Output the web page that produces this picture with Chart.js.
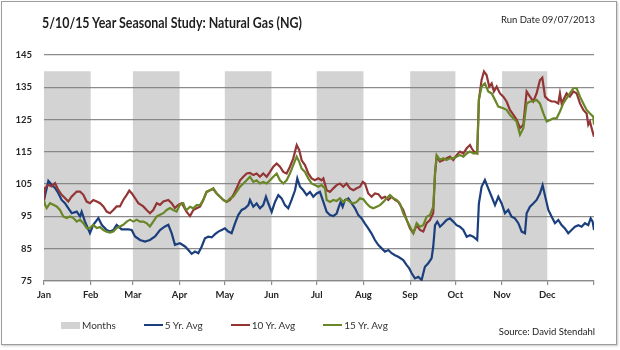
<!DOCTYPE html>
<html>
<head>
<meta charset="utf-8">
<script src="https://cdn.jsdelivr.net/npm/chart.js@4.4.0/dist/chart.umd.min.js"></script>
<style>
html, body { margin: 0; padding: 0; background: #fff; }
#wrap { position: relative; width: 620px; height: 350px; font-family: Lato, "DejaVu Sans", sans-serif; color: #222; overflow: hidden; }
#frame { position: absolute; left: 1px; top: 1px; width: 614px; height: 342px; border: 1px solid #9c9c9c; box-shadow: 1px 1px 2px #c8c8c8; }
#chart { position: absolute; left: 0; top: 0; }
#title { position: absolute; left: 42px; top: 12px; font-size: 16px; font-weight: 700; white-space: nowrap; transform-origin: 0 0; color: #1e1e1e; }
#rundate { position: absolute; right: 25px; top: 14px; font-size: 9.5px; white-space: nowrap; }
#source { position: absolute; right: 25px; top: 326px; font-size: 9.5px; white-space: nowrap; }
#legend { position: absolute; left: 61px; top: 319px; display: flex; align-items: center; font-size: 10px; color: #333; }
#legend .item { display: flex; align-items: center; margin-right: 28px; }
#legend .sw { width: 19px; margin-right: 2px; }
</style>
</head>
<body>
<div id="wrap">
  <div id="frame"></div>
  <canvas id="chart" width="620" height="350"></canvas>
  <div id="title">5/10/15 Year Seasonal Study: Natural Gas (NG)</div>
  <div id="rundate">Run Date 09/07/2013</div>
  <div id="legend"></div>
  <div id="source">Source: David Stendahl</div>
</div>
<script>
// month ticks (day of year) and the shaded "Months" bars
const months = ['Jan','Feb','Mar','Apr','May','Jun','Jul','Aug','Sep','Oct','Nov','Dec'];
const monthStarts = [0,31,59,90,120,151,181,212,243,273,304,334,365];
const monthBand = [140,0,140,0,140,0,140,0,140,0,140,0,0];

// [day of year, seasonal index]
const fiveYr = [[0,100.1],[2.9,106.0],[5.1,104.8],[7.3,103.8],[9.5,102.2],[11.7,100.1],[13.9,99.1],[16.1,97.6],[18.4,96.0],[21.7,96.5],[23.9,95.0],[25,96.5],[27.2,93.4],[30.5,89.8],[32.7,92.4],[36.1,94.5],[38.3,92.4],[41.6,90.8],[43.8,90.3],[46,90.8],[48.2,92.4],[51.5,91.0],[56,91.0],[58.2,90.8],[60.4,88.8],[63.7,87.7],[67,87.2],[70.3,87.7],[73.7,88.8],[77,90.8],[80.3,91.9],[82.5,92.4],[84.7,89.8],[86.9,86.2],[90.2,86.7],[93.6,85.7],
  [95.8,84.6],[98,83.4],[100.2,84.1],[102.4,83.6],[104.6,85.6],[106.8,88.2],[109,88.7],[111.3,88.5],[113.5,89.5],[115.7,90.3],[117.9,90.8],[120.1,91.3],[122.3,90.3],[124.5,89.8],[126.7,92.8],[128.9,95.4],[131.2,97.0],[133.4,97.5],[135.6,98.5],[136.7,100.1],[138.9,98.0],[141.1,99.0],[143.3,97.5],[145.5,98.5],[147.3,101.1],[148.9,99.0],[151.1,96.4],[153.3,99.5],[155.5,101.6],[157.7,100.6],[159.9,98.5],[162.1,97.5],[164.3,100.1],[166.6,103.1],[168.1,106.8],[169.9,104.2],[172.1,103.1],[174.3,101.6],[176.5,102.6],[178.7,101.1],[180.9,102.1],[183.1,102.6],
  [185.4,99.5],[187.6,96.4],[189.8,95.4],[192,95.1],[194.2,95.9],[195.3,97.5],[196.9,99.5],[198.2,98.0],[199.7,100.1],[202,100.6],[204.2,99.0],[206.4,97.5],[208.6,95.4],[210.8,94.4],[213,92.8],[215.2,91.3],[217.4,89.7],[219.6,87.7],[221.9,86.1],[224.1,85.1],[226.3,84.1],[228.5,84.6],[230.7,83.6],[232.9,83.0],[235.1,82.5],
  [238.4,81.5],[240.7,79.9],[242.4,78.9],[244,77.4],[246.2,75.8],[248.4,76.3],[250.6,75.3],[252.8,79.4],[255,80.5],[257.2,82.0],[258.3,85.6],[259.5,92.3],[261,93.4],[262.8,91.8],[265,92.8],[267.2,93.9],[269.4,94.4],[271.6,93.4],[273.8,92.3],[276,91.8],[278.3,90.8],[280.5,88.7],[282.7,89.2],[284.9,88.7],[287.5,87.7],[288.6,99.0],[290.4,104.2],[292.6,106.3],[294.8,103.7],[297.1,101.1],[299.3,98.5],[301.5,101.1],[303.7,99.0],[305.9,96.0],[308.1,97.0],[310.3,94.9],[312.5,94.4],[314.8,92.9],[317,90.3],[319.2,89.8],[320.3,96.0],[322.5,98.0],[324.7,99.0],[326.9,100.1],[329.1,102.1],[330.9,104.7],[332.4,101.6],[334.7,97.0],[336.9,94.9],[339.1,92.9],[341.3,93.9],[343.5,92.3],[345.7,91.3],[347.9,89.8],[350.1,90.8],[352.4,91.8],[354.6,92.3],[356.8,91.8],[359,92.9],[361.2,92.3],[362.8,94.4],[364.1,93.4],[365,90.8]];

const tenYr = [[0,100.1],[0.7,103.8],[2.9,104.8],[5.1,104.3],[7.3,105.3],[9.5,103.2],[11.7,101.7],[13.9,100.7],[16.1,99.6],[18.4,101.2],[21.7,102.7],[23.9,102.7],[26.1,101.7],[28.3,99.6],[30.5,99.1],[32.7,100.1],[35,99.6],[37.2,99.1],[39.4,98.1],[41.6,96.5],[43.8,96.0],[46,97.0],[48.2,98.1],[50.4,98.1],[52.6,100.1],[54.9,101.7],[56.6,103.0],[58.2,102.2],[60.4,100.7],[62.6,99.1],[65.9,98.1],[68.1,97.0],[70.3,96.0],[72.5,97.0],[74.8,99.1],[77,98.6],[79.2,99.6],[82.5,100.1],[84.7,99.1],[86.9,97.6],[89.1,98.6],[91.4,99.1],
  [94.7,96.4],[96.9,95.1],[99.1,97.0],[101.3,97.5],[103.5,98.0],[105.7,100.1],[107.9,102.6],[110.1,103.1],[112.4,103.4],[114.6,102.1],[116.8,101.1],[119,100.1],[121.2,99.5],[123.4,100.1],[125.6,101.6],[127.8,103.7],[130.1,106.2],[132.3,107.3],[134.5,108.3],[136.7,108.5],[138.9,107.8],[141.1,108.3],[143.3,107.3],[145.5,108.3],[147.8,107.3],[150,108.8],[152.2,110.4],[154.4,111.4],[156.6,110.4],[158.8,108.8],[161,108.3],[163.2,110.4],[165.4,112.9],[167.7,117.1],[169.4,115.5],[171,112.4],[173.2,110.9],[175.4,108.3],[177.6,106.8],[179.8,106.2],[182,106.8],[184.2,106.2],[185.4,106.8],
  [187.6,103.1],[189.8,102.6],[192,103.7],[194.2,104.7],[196.4,105.2],[198.6,104.2],[200.8,105.2],[203.1,103.7],[205.3,103.1],[207.5,103.7],[209.7,104.2],[211.5,105.7],[213,105.2],[215.2,102.1],[217.4,101.1],[219.6,102.1],[221.9,101.9],[224.1,100.6],[226.3,101.1],[228.5,100.1],[230.7,101.1],[232.9,100.1],[235.1,99.5],
  [238.4,97.0],[240.7,93.9],[242.9,91.3],[245.1,89.8],[247.3,92.3],[249.5,90.8],[251.7,90.3],[253.9,92.9],[256.1,93.9],[258.3,96.0],[259.5,108.3],[260.6,113.5],[262.8,112.0],[265,112.5],[267.2,113.0],[269.4,113.5],[271.6,112.5],[273.8,114.0],[276,115.1],[278.3,114.5],[280.5,116.1],[282.7,117.1],[283.8,116.1],[285.3,115.1],[287.5,114.5],[288.6,131.1],[290.4,137.3],[292,139.9],[293.7,138.8],[295.5,135.2],[297.1,136.2],[298.6,133.7],[300.4,135.2],[302.6,133.1],[304.8,132.1],[307,130.6],[309.2,128.0],[311.4,126.5],[313.6,125.0],[315.9,122.4],[318.1,123.4],[320.3,133.7],[322.5,132.1],[324.7,130.6],[326.9,133.1],[329.1,137.2],[330.7,138.0],[332.5,132.1],[334.7,131.1],[336.9,130.6],[339.1,130.6],[341.3,130.0],[342.4,133.1],[343.5,130.0],[345.7,132.1],[346.8,133.1],[349,132.1],[351.3,133.7],[353.5,133.1],[355.7,130.0],[357.9,128.0],[360.1,126.9],[361.2,123.4],[362.3,124.4],[363.4,122.4],[365,119.7]];

const fifteenYr = [[0,100.1],[0.7,98.6],[1.8,97.6],[4,99.1],[6.2,98.6],[8.4,98.1],[10.6,97.0],[12.8,95.0],[15,94.5],[17.3,95.0],[19.5,94.5],[21.7,93.4],[23.9,94.0],[26.1,92.9],[28.3,91.4],[30.5,91.4],[32.7,92.4],[35,91.4],[37.2,91.7],[39.4,90.8],[41.6,90.3],[43.8,90.0],[46,90.3],[48.2,91.4],[50.4,91.9],[52.6,92.4],[54.9,93.4],[57.1,94.0],[59.3,93.4],[61.5,94.0],[63.7,93.4],[65.9,93.4],[68.1,92.9],[70.3,91.9],[72.5,93.4],[74.8,95.0],[77,95.5],[79.2,96.0],[81.4,97.0],[83.6,97.6],[85.8,97.0],[88,96.5],[90.2,98.6],[92.5,99.1],[93.6,97.6],
  [94.7,97.0],[96.9,98.0],[99.1,97.5],[101.3,98.5],[103.5,98.5],[105.7,100.1],[107.9,102.6],[110.1,103.1],[112.4,103.7],[114.6,102.1],[116.8,101.1],[119,100.1],[121.2,99.5],[123.4,100.6],[125.6,101.1],[127.8,102.6],[130.1,104.2],[132.3,105.2],[134.5,106.2],[136.7,107.3],[138.9,105.7],[141.1,106.2],[143.3,105.2],[145.5,105.7],[147.8,105.2],[150,106.2],[152.2,107.3],[154.4,108.3],[156.6,106.2],[158.8,105.2],[161,106.2],[163.2,108.3],[165.4,110.9],[167.7,113.5],[169.4,111.9],[171,109.8],[173.2,108.8],[175.4,106.8],[177.6,105.2],[179.8,104.7],[182,104.2],[184.2,104.7],[186.5,103.7],
  [187.6,100.1],[189.8,99.5],[192,100.1],[194.2,99.8],[196.4,100.6],[198.6,99.5],[200.8,100.3],[203.1,99.5],[205.3,99.0],[207.5,99.5],[209.7,100.6],[211.9,100.3],[214.1,99.0],[216.3,98.0],[218.5,97.5],[220.8,98.0],[223,98.5],[225.2,99.5],[227.4,100.6],[229.6,101.6],[231.8,100.6],[234,100.1],[236.2,99.0],
  [238.4,96.0],[240.7,93.9],[242.9,91.8],[245.1,89.8],[247.3,92.9],[249.5,91.8],[251.7,92.3],[253.9,94.9],[256.1,95.4],[258.3,98.0],[259.5,108.3],[260.6,114.0],[262.8,112.5],[265,113.0],[267.2,112.5],[269.4,113.0],[271.6,113.0],[273.8,113.5],[276,114.0],[278.3,113.5],[280.5,114.5],[282.7,115.1],[284.9,114.5],[287.5,114.5],[288.6,131.1],[290.4,135.2],[292.6,136.2],[294.8,133.7],[297.1,133.1],[299.3,131.1],[301.5,129.0],[304.8,128.5],[307,128.0],[309.2,126.5],[311.4,125.4],[313.6,124.4],[315.9,120.3],[318.1,122.3],[320.3,130.0],[322.5,130.6],[324.7,130.6],[326.9,131.1],[329.1,130.0],[331.4,126.9],[333.6,124.4],[335.8,124.9],[338,125.4],[340.2,125.4],[342.4,127.5],[344.6,130.0],[346.8,131.6],[349,133.1],[351.3,134.7],[353.5,134.7],[355.7,132.1],[357.9,130.0],[360.1,128.0],[362.3,126.9],[364.5,125.9],[365,123.4]];

const gridColor = '#8c8c8c';
const tickFont = { family: 'Lato', size: 9.5, weight: 'bold' };

function pts(arr) { return arr.map(p => ({ x: p[0], y: p[1] })); }
function line(label, arr, color, order) {
  return { label: label, data: pts(arr), borderColor: color, backgroundColor: color,
    borderWidth: 2.2, pointRadius: 0, tension: 0, fill: false, order: order };
}

const chart = new Chart(document.getElementById('chart'), {
  type: 'line',
  data: {
    datasets: [
      { label: 'Months', data: monthStarts.map((d, i) => ({ x: d, y: monthBand[i] })),
        stepped: true, fill: 'start', backgroundColor: 'rgba(128,128,128,0.35)',
        borderColor: 'transparent', borderWidth: 0, pointRadius: 0, order: 4 },
      line('5 Yr. Avg', fiveYr, '#1b3f7d', 3),
      line('10 Yr. Avg', tenYr, '#933534', 2),
      line('15 Yr. Avg', fifteenYr, '#6a8728', 1)
    ]
  },
  options: {
    responsive: false,
    animation: false,
    events: [],
    layout: { padding: { left: 0, right: 26, top: 55, bottom: 45 } },
    plugins: { legend: { display: false }, tooltip: { enabled: false } },
    scales: {
      x: {
        type: 'linear', min: 0, max: 365,
        afterBuildTicks: s => { s.ticks = monthStarts.map(v => ({ value: v })); },
        afterFit: s => { s.height = 24; },
        ticks: { autoSkip: false, maxRotation: 0, minRotation: 0, padding: 4, color: '#262626', font: tickFont,
          callback: v => months[monthStarts.indexOf(v)] || '' },
        grid: { drawOnChartArea: false, drawTicks: true, tickLength: 4, color: gridColor, lineWidth: 1.2 },
        border: { display: true, color: gridColor, width: 1.3 }
      },
      y: {
        min: 75, max: 145,
        afterFit: s => { s.width = 44; },
        ticks: { stepSize: 10, padding: 12, color: '#262626', font: tickFont },
        grid: { color: gridColor, lineWidth: 1.3, drawTicks: false },
        border: { display: false }
      }
    }
  }
});

// legend built from the chart's datasets
const legend = document.getElementById('legend');
chart.data.datasets.forEach(ds => {
  const item = document.createElement('div');
  item.className = 'item';
  const sw = document.createElement('div');
  sw.className = 'sw';
  if (ds.fill) { sw.style.height = '7px'; sw.style.background = '#d2d2d2'; }
  else { sw.style.height = '2.5px'; sw.style.background = ds.borderColor; }
  const tx = document.createElement('span');
  tx.textContent = ds.label;
  item.appendChild(sw); item.appendChild(tx);
  legend.appendChild(item);
});

// squeeze title to the width it has in the original
function fitTitle() {
  const t = document.getElementById('title');
  t.style.transform = 'none';
  const w = t.getBoundingClientRect().width;
  t.style.transform = 'scaleX(' + (260 / w) + ')';
}
fitTitle();
if (document.fonts) document.fonts.ready.then(fitTitle);
</script>
</body>
</html>
